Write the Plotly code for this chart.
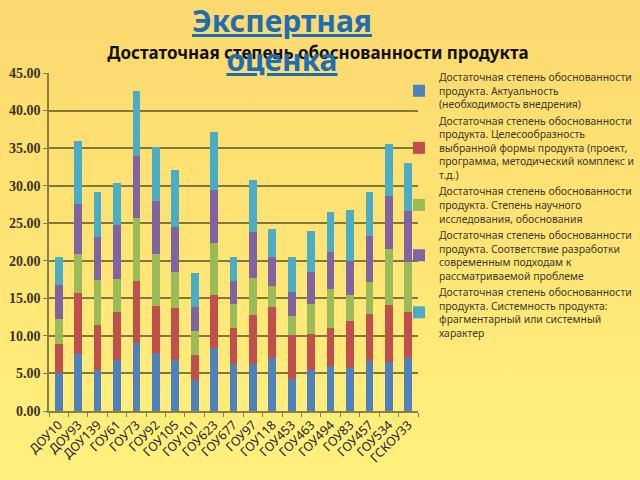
import base64
import plotly.graph_objects as go

categories = ["ДОУ10", "ДОУ93", "ДОУ139", "ГОУ61", "ГОУ73", "ГОУ92", "ГОУ105", "ГОУ101",
              "ГОУ623", "ГОУ677", "ГОУ97", "ГОУ118", "ГОУ453", "ГОУ463", "ГОУ494", "ГОУ83",
              "ГОУ457", "ГОУ534", "ГСКОУ33"]

actuality = [5.0, 7.6, 5.5, 6.8, 9.0, 7.7, 6.8, 4.1, 8.4, 6.3, 6.2, 7.1, 4.3, 5.5, 6.0, 5.7, 6.6, 6.5, 7.1]
expediency = [3.9, 8.1, 5.9, 6.4, 8.3, 6.3, 6.9, 3.4, 7.1, 4.7, 6.6, 6.8, 5.8, 4.8, 5.1, 6.3, 6.3, 7.6, 6.1]
research = [3.3, 5.2, 6.0, 4.4, 8.4, 6.9, 4.8, 3.1, 6.9, 3.2, 4.9, 2.8, 2.5, 3.9, 5.1, 3.5, 4.3, 7.5, 6.6]
modernity = [4.6, 6.7, 5.8, 7.2, 8.2, 7.1, 6.0, 3.3, 7.0, 3.1, 6.1, 3.8, 3.2, 4.3, 5.0, 4.5, 6.1, 7.0, 6.8]
systemic = [3.7, 8.4, 6.0, 5.6, 8.7, 7.2, 7.6, 4.5, 7.7, 3.2, 7.0, 3.7, 4.7, 5.5, 5.3, 6.8, 5.9, 7.0, 6.4]

series_names = [
    "Достаточная степень обоснованности<br>продукта. Актуальность<br>(необходимость внедрения)",
    "Достаточная степень обоснованности<br>продукта. Целесообразность<br>выбранной формы продукта (проект,<br>программа, методический комплекс и<br>т.д.)",
    "Достаточная степень обоснованности<br>продукта. Степень научного<br>исследования, обоснования",
    "Достаточная степень обоснованности<br>продукта. Соответствие разработки<br>современным подходам к<br>рассматриваемой проблеме",
    "Достаточная степень обоснованности<br>продукта. Системность продукта:<br>фрагментарный или системный<br>характер",
]
series_values = [actuality, expediency, research, modernity, systemic]
colors = ["#4F81BD", "#C0504D", "#9BBB59", "#8064A2", "#4BACC6"]

y_ticks = [0, 5, 10, 15, 20, 25, 30, 35, 40, 45]

fig = go.Figure()
for name, vals, col in zip(series_names, series_values, colors):
    fig.add_trace(go.Bar(x=categories, y=vals, name=name, marker_color=col,
                         marker_line_width=0))

svg = ('<svg xmlns="http://www.w3.org/2000/svg" width="100" height="480" preserveAspectRatio="none">'
       '<defs><linearGradient id="g" x1="0" y1="0" x2="0" y2="1">'
       '<stop offset="0" stop-color="#FCD96F"/><stop offset="0.5" stop-color="#FEE474"/>'
       '<stop offset="1" stop-color="#FFF17E"/></linearGradient></defs>'
       '<rect width="100" height="480" fill="url(#g)"/></svg>')
bg_src = "data:image/svg+xml;base64," + base64.b64encode(svg.encode()).decode()

L, R, T, B = 49, 222, 73, 69
PW, PH = 640 - L - R, 480 - T - B

fig.update_layout(
    width=640, height=480,
    barmode="stack", bargap=0.6,
    paper_bgcolor="#FEE474", plot_bgcolor="rgba(0,0,0,0)",
    margin=dict(l=L, r=R, t=T, b=B, autoexpand=False),
    images=[dict(source=bg_src, xref="paper", yref="paper", x=-1, y=1 + T / PH,
                 sizex=4, sizey=480 / PH, xanchor="left", yanchor="top",
                 sizing="stretch", layer="below")],
    title=dict(text="<b>Достаточная степень обоснованности продукта</b>",
               x=318 / 640, xanchor="center", y=1 - 53 / 480, yanchor="middle",
               font=dict(family="Noto Sans", size=17, color="#111111")),
    showlegend=True,
    legend=dict(x=(399 - L) / PW, xanchor="left", y=1 + 9 / PH, yanchor="top",
                font=dict(family="Noto Sans", size=10.4, color="#3a3a2a"),
                bgcolor="rgba(0,0,0,0)", tracegroupgap=0, traceorder="normal",
                itemwidth=30, maxheight=420),
    xaxis=dict(tickangle=-45, showgrid=False, showline=True, linecolor="#8a8040",
               linewidth=1.5, ticks="outside", tickson="boundaries", ticklen=4,
               tickcolor="#8a8040",
               tickfont=dict(family="Noto Sans", size=12.5, color="#222222")),
    yaxis=dict(range=[0, 45], tickvals=y_ticks, tickformat=".2f",
               showgrid=True, gridcolor="#7f7a3c", gridwidth=1.5,
               showline=True, linecolor="#8a8040", linewidth=1.5,
               ticks="outside", ticklen=4, tickcolor="#8a8040", zeroline=False,
               tickfont=dict(family="Liberation Serif", size=14, color="#3a3320",
                             weight="bold")),
    annotations=[dict(text="<b>Экспертная<br>оценка</b>", xref="paper", yref="paper",
                      x=(282 - L) / PW, y=1 - (40 - T) / PH, xanchor="center", yanchor="middle",
                      showarrow=False,
                      font=dict(family="Noto Sans", size=30, color="#1F6DB3",
                                lineposition="under"))],
)

fig.write_html("out.html")
